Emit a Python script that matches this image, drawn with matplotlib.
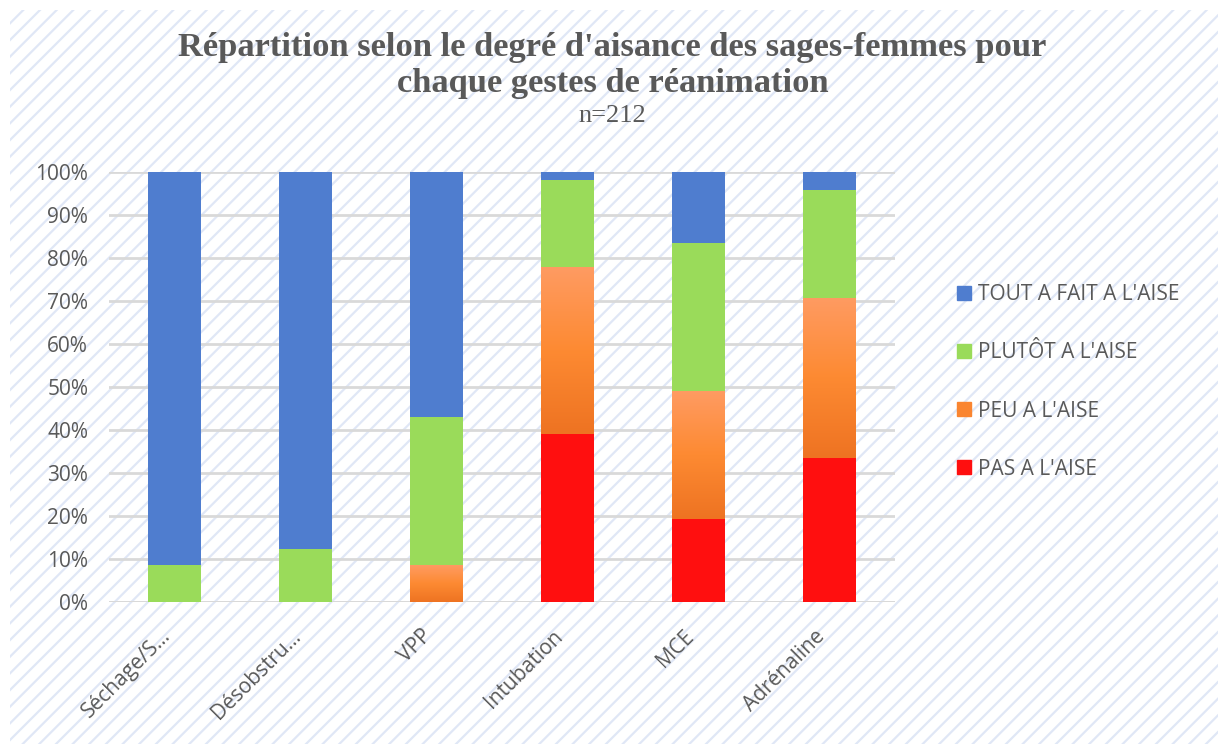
import numpy as np
import matplotlib
matplotlib.use('Agg')
import matplotlib.pyplot as plt
from matplotlib.patches import Rectangle
from matplotlib.lines import Line2D
from matplotlib.colors import LinearSegmentedColormap

# Effectifs par geste (n=212)
n_total = 212
categories = ['Séchage/S...', 'Désobstru...', 'VPP', 'Intubation', 'MCE', 'Adrénaline']
pas_aise = [0, 0, 0, 83, 41, 71]
peu_aise = [0, 0, 18, 82, 63, 79]
plutot_aise = [18, 26, 73, 43, 73, 53]
tout_aise = [194, 186, 121, 4, 35, 9]

labels = ["TOUT A FAIT A L'AISE", "PLUTÔT A L'AISE", "PEU A L'AISE", "PAS A L'AISE"]
yticks = [0, 10, 20, 30, 40, 50, 60, 70, 80, 90, 100]

c_blue = '#4F7DCF'
c_green = '#9ADB5A'
c_orange = '#FA8530'
c_red = '#FF0F0F'
txt = '#595959'

plt.rcParams['font.family'] = ['Open Sans', 'DejaVu Sans']
plt.rcParams['hatch.linewidth'] = 1.6

fig = plt.figure(figsize=(12.18, 7.44), dpi=100)
fig.patch.set_facecolor('white')
# fond hachure
fig.patches.append(Rectangle((10/1218, 0), 1-10/1218, 1-10/744,
                             transform=fig.transFigure, facecolor='white',
                             edgecolor='#e0e7f6', hatch='//', linewidth=0,
                             zorder=-10))

ax = fig.add_axes([109/1218, 1-602/744, (895-109)/1218, (602-172)/744])
ax.set_facecolor('none')

x = np.arange(len(categories))
p_pas = np.array(pas_aise)/n_total*100
p_peu = np.array(peu_aise)/n_total*100
p_plu = np.array(plutot_aise)/n_total*100
p_tout = np.array(tout_aise)/n_total*100

w = 0.4
ax.bar(x, p_pas, w, color=c_red, zorder=3)
bars_peu = ax.bar(x, p_peu, w, bottom=p_pas, color='none', zorder=3)
ax.bar(x, p_plu, w, bottom=p_pas+p_peu, color=c_green, zorder=3)
ax.bar(x, p_tout, w, bottom=p_pas+p_peu+p_plu, color=c_blue, zorder=3)

# degrade orange
cmap = LinearSegmentedColormap.from_list('org', ['#EE7322', '#FD8A32', '#FF9B62'])
grad = np.linspace(0, 1, 256).reshape(-1, 1)
for b in bars_peu:
    if b.get_height() <= 0:
        continue
    x0, y0 = b.get_x(), b.get_y()
    im = ax.imshow(grad, cmap=cmap, origin='lower', aspect='auto',
                   extent=[x0, x0+b.get_width(), y0, y0+b.get_height()],
                   zorder=3)
    im.set_clip_path(b)

ax.set_xlim(-0.5, len(categories)-0.5)
ax.set_ylim(0, 100)
ax.set_yticks(yticks)
ax.set_yticklabels(['%d%%' % v for v in yticks])
ax.yaxis.grid(True, color='#D9D9D9', linewidth=2, zorder=0)
ax.set_axisbelow(True)
for s in ['top', 'right', 'left', 'bottom']:
    ax.spines[s].set_visible(False)
ax.axhline(0, color='#D9D9D9', linewidth=2, zorder=1)

ax.set_xticks(x)
ax.set_xticklabels(categories, rotation=45, ha='right', va='top')
ax.tick_params(axis='x', length=0, pad=17, labelsize=15, labelcolor=txt)
ax.tick_params(axis='y', length=0, pad=15, labelsize=15, labelcolor=txt)

# titre
fig.text(0.503, 1-56/744, "Répartition selon le degré d'aisance des sages-femmes pour",
         ha='center', va='baseline', family='Liberation Serif',
         fontweight='bold', fontsize=24.8, color=txt)
fig.text(0.503, 1-92/744, "chaque gestes de réanimation",
         ha='center', va='baseline', family='Liberation Serif',
         fontweight='bold', fontsize=24.8, color=txt)
fig.text(0.503, 1-122/744, 'n=212', ha='center', va='baseline',
         family='Liberation Serif', fontsize=19, color=txt)

# legende
colors = [c_blue, c_green, c_orange, c_red]
handles = [Line2D([], [], marker='s', linestyle='none', markersize=10,
                  markerfacecolor=c, markeredgecolor=c) for c in colors]
fig.legend(handles, labels, loc='center left', bbox_to_anchor=(957/1218, 1-382/744),
           frameon=False, fontsize=15, labelcolor=txt, handlelength=0.65,
           handletextpad=0.35, labelspacing=1.78, borderpad=0, borderaxespad=0)

fig.savefig('out.png', dpi=100)
